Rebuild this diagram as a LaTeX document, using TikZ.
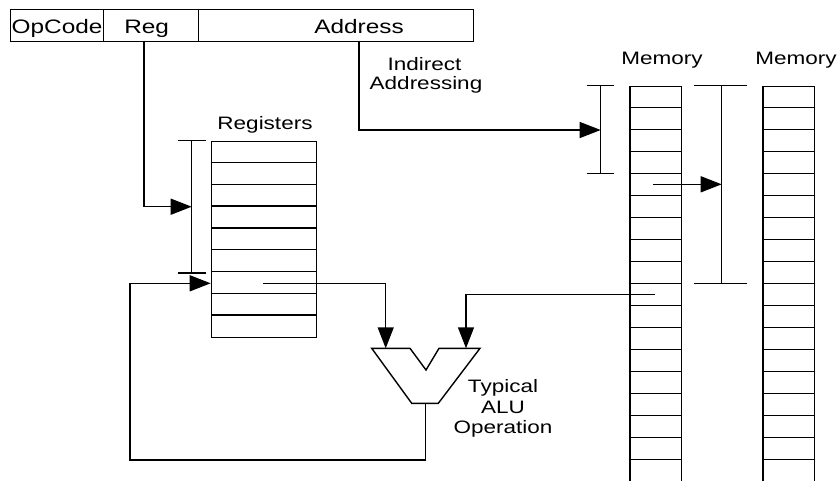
\documentclass[tikz,border=0pt]{standalone}
\usepackage{fontspec}
\setmainfont{Liberation Sans}[FakeStretch=1.25]
\usetikzlibrary{arrows.meta}
\begin{document}
\begin{tikzpicture}[x=1pt,y=-1pt,line width=1.4pt,
  lbl/.style={font=\fontsize{18}{21}\selectfont,inner sep=0pt,anchor=base},
  toplbl/.style={font=\fontsize{19.5}{22}\selectfont,inner sep=0pt,anchor=base},
  arr/.style={-{Triangle[length=21pt,width=16pt]}},
  cellbox/.style={draw,rectangle,inner sep=0pt,anchor=north west}]
\useasboundingbox (0,0) rectangle (840,480);

% instruction word
\node[cellbox,minimum width=93.5pt,minimum height=31.7pt] (opc) at (9.5,9) {};
\node[cellbox,minimum width=94.7pt,minimum height=31.7pt] (reg) at (103,9) {};
\node[cellbox,minimum width=275.3pt,minimum height=31.7pt] (adr) at (197.7,9) {};
\node[toplbl,anchor=base west] (topc) at (11,33.3) {OpCode};
\node[toplbl] (treg) at (146.7,33.3) {Reg};
\node[toplbl] (tadr) at (359,33.3) {Address};

% registers
\node[lbl] (tregs) at (265,129.3) {Registers};
\node[cellbox,minimum width=105.3pt,minimum height=196.2pt] (regs) at (210.7,140.7) {};
\foreach \i in {1,...,8} \draw (210.7,{140.7+21.8*\i}) -- (316,{140.7+21.8*\i});
\draw (177.7,140.7) -- (206,140.7);
\draw (177.7,273) -- (206,273);
\draw (191.7,140.7) -- (191.7,273);
\coordinate (rbr) at (191.7,206.7);
\coordinate (regsrc) at (144,40.7);
\draw[arr] (regsrc) |- (rbr);

% memory 1
\node[lbl] (tmem1) at (662,64) {Memory};
\node[cellbox,minimum width=51.7pt,minimum height=396pt] (mem1) at (629.3,85.7) {};
\foreach \i in {1,...,17} \draw (629.3,{85.7+22*\i}) -- (681,{85.7+22*\i});
% memory 2
\node[lbl] (tmem2) at (796,64) {Memory};
\node[cellbox,minimum width=51.4pt,minimum height=396pt] (mem2) at (762.3,85.7) {};
\foreach \i in {1,...,17} \draw (762.3,{85.7+22*\i}) -- (813.7,{85.7+22*\i});

% memory brackets
\draw (586.7,85.7) -- (614.3,85.7);
\draw (586.7,173.7) -- (614.3,173.7);
\draw (600.7,85.7) -- (600.7,173.7);
\draw (694,85.7) -- (746.7,85.7);
\draw (694,283.7) -- (746.7,283.7);
\draw (721.7,85.7) -- (721.7,283.7);

% indirect addressing
\node[lbl] (ind1) at (424.5,70.7) {Indirect};
\node[lbl] (ind2) at (426,89) {Addressing};
\coordinate (adrsrc) at (359,40.7);
\coordinate (mbr1) at (600.7,130);
\draw[arr] (adrsrc) |- (mbr1);
\coordinate (m5) at (653.3,184.3);
\coordinate (mbr2) at (721.7,184.3);
\draw[arr] (m5) -- (mbr2);

% ALU
\draw (371.7,348.3) -- (410,348.3) -- (426,370) -- (439,348.3) -- (480,348.3)
      -- (438.3,403.3) -- (411.7,403.3) -- cycle;
\coordinate (aluL) at (385.7,348.3);
\coordinate (aluR) at (466,348.3);
\coordinate (aluout) at (425.7,403.3);
\node[lbl] (alu1) at (503,392.7) {Typical};
\node[lbl] (alu2) at (503,413.3) {ALU};
\node[lbl] (alu3) at (503,433.5) {Operation};

% data paths
\coordinate (r7) at (263,283.3);
\draw[arr] (r7) -| (aluL);
\coordinate (m10) at (655,294.3);
\draw[arr] (m10) -| (aluR);
\coordinate (regin) at (210.7,283.3);
\draw[arr] (aluout) -- (425.7,460) -| (130,283.3) -- (regin);
\end{tikzpicture}
\end{document}
